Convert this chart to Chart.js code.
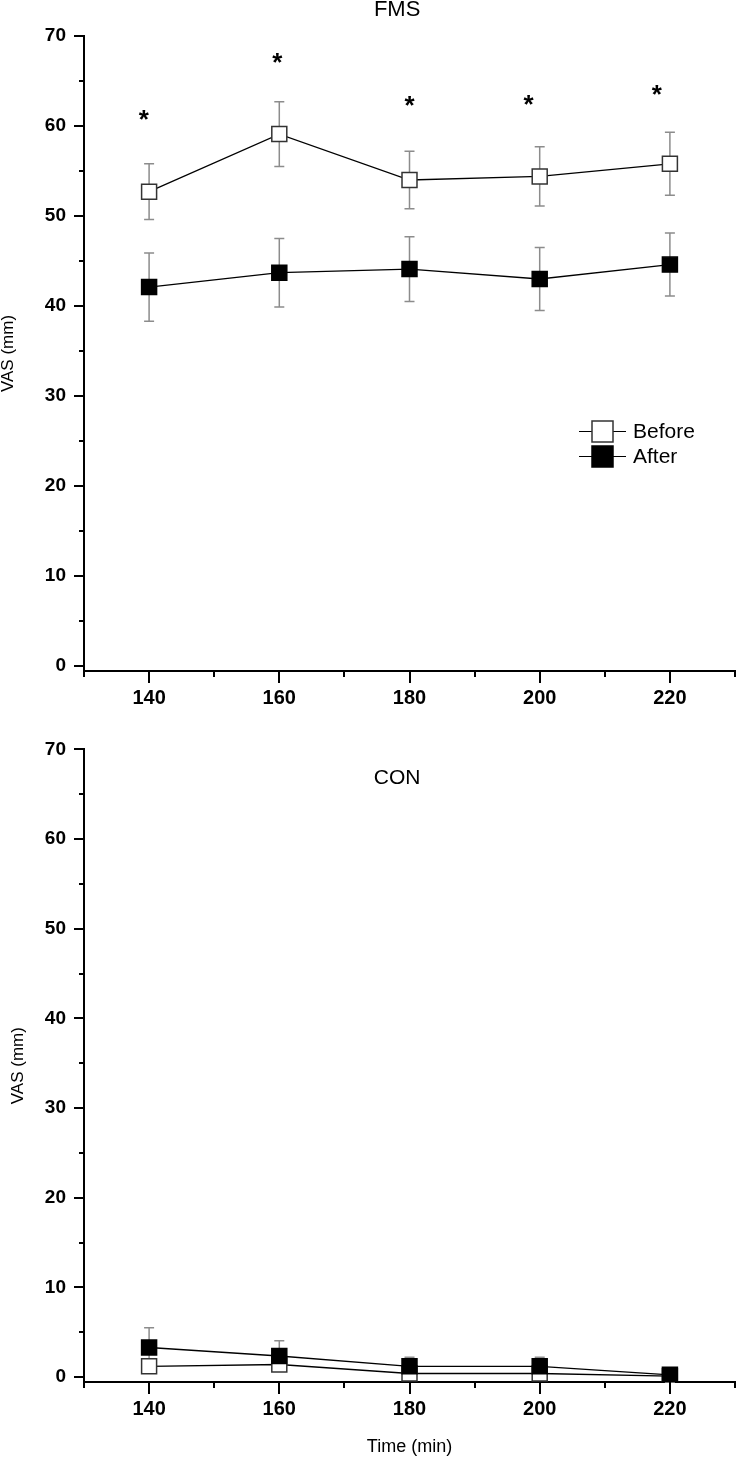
<!DOCTYPE html>
<html lang="en">
<head>
<meta charset="UTF-8">
<title>VAS over time - FMS and CON</title>
<script src="https://cdn.jsdelivr.net/npm/chart.js"></script>
<style>
    * { margin: 0; padding: 0; box-sizing: border-box; }
    body { background: #fff; width: 736px; height: 1457px; position: relative; overflow: hidden; }
    .panel { position: absolute; left: 0; width: 736px; }
    #top { top: 0; height: 720px; }
    #bottom { top: 720px; height: 737px; }
</style>
</head>
<body>
<div class="panel" id="top"><canvas id="fmsChart" width="736" height="720"></canvas></div>
<div class="panel" id="bottom"><canvas id="conChart" width="736" height="737"></canvas></div>

<script>
// data
const times = [140, 160, 180, 200, 220];

const fmsBefore = [52.7, 59.1, 54.0, 54.4, 55.8];
const fmsBeforeErr = [3.1, 3.6, 3.2, 3.3, 3.5];
const fmsAfter = [42.1, 43.7, 44.1, 43.0, 44.6];
const fmsAfterErr = [3.8, 3.8, 3.6, 3.5, 3.5];

const conBefore = [1.2, 1.4, 0.4, 0.4, 0.1];
const conBeforeErr = [0.7, 0.6, 0.3, 0.3, 0.2];
const conAfter = [3.3, 2.35, 1.2, 1.2, 0.25];
const conAfterErr = [2.2, 1.7, 1.0, 1.0, 0.8];

// significance stars (FMS panel)
const starX = [139.2, 159.7, 180, 198.3, 218];
const starY = [61.4, 67.7, 62.9, 63.1, 64.2];

const xTicks = [130, 140, 150, 160, 170, 180, 190, 200, 210, 220, 230];
const xLabels = [140, 160, 180, 200, 220];
const yTicks = [0, 5, 10, 15, 20, 25, 30, 35, 40, 45, 50, 55, 60, 65, 70];
const yLabels = [0, 10, 20, 30, 40, 50, 60, 70];

const FONT = "'Liberation Sans', Arial, sans-serif";

function points(vals) {
    return times.map((t, i) => ({ x: t, y: vals[i] }));
}

// error bars drawn under the markers
const errorBars = {
    id: 'errorBars',
    beforeDatasetsDraw(chart) {
        const ctx = chart.ctx;
        const ys = chart.scales.y;
        ctx.save();
        ctx.strokeStyle = '#8c8c8c';
        ctx.lineWidth = 1.5;
        chart.data.datasets.forEach((ds, i) => {
            if (!ds.errors) return;
            chart.getDatasetMeta(i).data.forEach((pt, j) => {
                const v = ds.data[j].y, e = ds.errors[j];
                const top = ys.getPixelForValue(v + e);
                const bot = ys.getPixelForValue(v - e);
                ctx.beginPath();
                ctx.moveTo(pt.x, top); ctx.lineTo(pt.x, bot);
                ctx.moveTo(pt.x - 5, top); ctx.lineTo(pt.x + 5, top);
                ctx.moveTo(pt.x - 5, bot); ctx.lineTo(pt.x + 5, bot);
                ctx.stroke();
            });
        });
        ctx.restore();
    }
};

// outward tick marks, long for labelled ticks, short otherwise
const tickMarks = {
    id: 'tickMarks',
    afterDraw(chart) {
        const { ctx, chartArea } = chart;
        const xs = chart.scales.x, ys = chart.scales.y;
        ctx.save();
        ctx.strokeStyle = '#000';
        ctx.lineWidth = 2;
        xs.ticks.forEach(t => {
            const px = Math.round(xs.getPixelForValue(t.value));
            const len = t.label ? 12 : 6;
            ctx.beginPath();
            ctx.moveTo(px, chartArea.bottom);
            ctx.lineTo(px, chartArea.bottom + len);
            ctx.stroke();
        });
        ys.ticks.forEach(t => {
            const py = Math.round(ys.getPixelForValue(t.value));
            const len = t.label ? 10 : 5;
            ctx.beginPath();
            ctx.moveTo(chartArea.left, py);
            ctx.lineTo(chartArea.left - len, py);
            ctx.stroke();
        });
        ctx.restore();
    }
};

const panelTitle = {
    id: 'panelTitle',
    afterDraw(chart, args, opts) {
        if (!opts.text) return;
        const ctx = chart.ctx;
        ctx.save();
        ctx.font = opts.size + 'px ' + FONT;
        ctx.fillStyle = '#000';
        ctx.textAlign = 'center';
        ctx.textBaseline = 'middle';
        ctx.fillText(opts.text, chart.scales.x.getPixelForValue(opts.x), chart.scales.y.getPixelForValue(opts.y));
        ctx.restore();
    }
};

const stars = {
    id: 'stars',
    afterDatasetsDraw(chart, args, opts) {
        if (!opts.xs) return;
        const ctx = chart.ctx;
        ctx.save();
        ctx.font = 'bold 26px ' + FONT;
        ctx.fillStyle = '#000';
        ctx.textAlign = 'center';
        ctx.textBaseline = 'alphabetic';
        opts.xs.forEach((xv, i) => {
            const px = chart.scales.x.getPixelForValue(xv);
            const py = chart.scales.y.getPixelForValue(opts.ys[i]);
            ctx.fillText('*', px, py + 14.5);
        });
        ctx.restore();
    }
};

// legend: short line through a square, like the original
const boxLegend = {
    id: 'boxLegend',
    afterDraw(chart, args, opts) {
        if (!opts.display) return;
        const ctx = chart.ctx;
        ctx.save();
        chart.data.datasets.forEach((ds, i) => {
            const y = opts.y + i * opts.gap;
            ctx.strokeStyle = '#000';
            ctx.lineWidth = 1.2;
            ctx.beginPath();
            ctx.moveTo(opts.x, y); ctx.lineTo(opts.x + 47, y);
            ctx.stroke();
            ctx.fillStyle = ds.pointBackgroundColor;
            ctx.fillRect(opts.x + 13, y - 10.5, 21, 21);
            ctx.strokeStyle = ds.pointBorderColor;
            ctx.lineWidth = 1.5;
            ctx.strokeRect(opts.x + 13, y - 10.5, 21, 21);
            ctx.fillStyle = '#000';
            ctx.font = '21px ' + FONT;
            ctx.textBaseline = 'middle';
            ctx.fillText(ds.label, opts.x + 54, y + 1);
        });
        ctx.restore();
    }
};

function makeChart(id, before, beforeErr, after, afterErr, cfg) {
    const ctx = document.getElementById(id).getContext('2d');
    return new Chart(ctx, {
        type: 'line',
        data: {
            datasets: [{
                label: 'Before',
                data: points(before),
                errors: beforeErr,
                order: 1,
                borderColor: '#000',
                borderWidth: 1.3,
                pointStyle: 'rect',
                pointRadius: 10.6,
                pointBackgroundColor: '#fff',
                pointBorderColor: '#333',
                pointBorderWidth: 1.5,
                tension: 0
            }, {
                label: 'After',
                data: points(after),
                errors: afterErr,
                order: 0,
                borderColor: '#000',
                borderWidth: 1.3,
                pointStyle: 'rect',
                pointRadius: 10.6,
                pointBackgroundColor: '#000',
                pointBorderColor: '#000',
                pointBorderWidth: 1.5,
                tension: 0
            }]
        },
        options: {
            responsive: false,
            animation: false,
            devicePixelRatio: 1,
            layout: { autoPadding: false, padding: { top: cfg.top, right: 1, left: 0, bottom: 0 } },
            plugins: {
                legend: { display: false },
                tooltip: { enabled: false },
                title: { display: false },
                panelTitle: cfg.title,
                stars: cfg.stars,
                boxLegend: cfg.legend
            },
            scales: {
                x: {
                    type: 'linear',
                    min: 130,
                    max: 230,
                    afterBuildTicks: s => { s.ticks = xTicks.map(v => ({ value: v })); },
                    afterFit: s => { s.height = cfg.xHeight; s.paddingLeft = 0; s.paddingRight = 0; },
                    grid: { display: false, drawTicks: false },
                    border: { display: true, color: '#000', width: 2 },
                    ticks: {
                        autoSkip: false,
                        maxRotation: 0,
                        padding: 15,
                        color: '#000',
                        font: { family: FONT, size: 20, weight: 'bold' },
                        callback: v => xLabels.includes(v) ? String(v) : ''
                    },
                    title: {
                        display: cfg.xTitle,
                        text: 'Time (min)',
                        color: '#000',
                        font: { family: FONT, size: 18, lineHeight: 1 },
                        padding: { top: 0, bottom: 1 }
                    }
                },
                y: {
                    min: -0.55,
                    max: 70,
                    afterBuildTicks: s => { s.ticks = yTicks.map(v => ({ value: v })); },
                    afterFit: s => { s.width = 84; },
                    grid: { display: false, drawTicks: false },
                    border: { display: true, color: '#000', width: 2 },
                    ticks: {
                        autoSkip: false,
                        padding: 18,
                        color: '#000',
                        font: { family: FONT, size: 19, weight: 'bold' },
                        callback: v => yLabels.includes(v) ? String(v) : ''
                    },
                    title: {
                        display: true,
                        text: 'VAS (mm)',
                        color: '#000',
                        font: { family: FONT, size: 17, lineHeight: 1 },
                        padding: { top: cfg.yTitlePad, bottom: 0 }
                    }
                }
            }
        },
        plugins: [errorBars, tickMarks, panelTitle, stars, boxLegend]
    });
}

makeChart('fmsChart', fmsBefore, fmsBeforeErr, fmsAfter, fmsAfterErr, {
    top: 36,
    xHeight: 49,
    xTitle: false,
    yTitlePad: 0,
    title: { text: 'FMS', x: 178.1, y: 72.9, size: 22 },
    stars: { xs: starX, ys: starY },
    legend: { display: true, x: 579, y: 431.5, gap: 25 }
});

makeChart('conChart', conBefore, conBeforeErr, conAfter, conAfterErr, {
    top: 25,
    xHeight: 75,
    xTitle: true,
    yTitlePad: 9.5,
    title: { text: 'CON', x: 178.1, y: 66.8, size: 21 },
    stars: {},
    legend: { display: false }
});
</script>
</body>
</html>
